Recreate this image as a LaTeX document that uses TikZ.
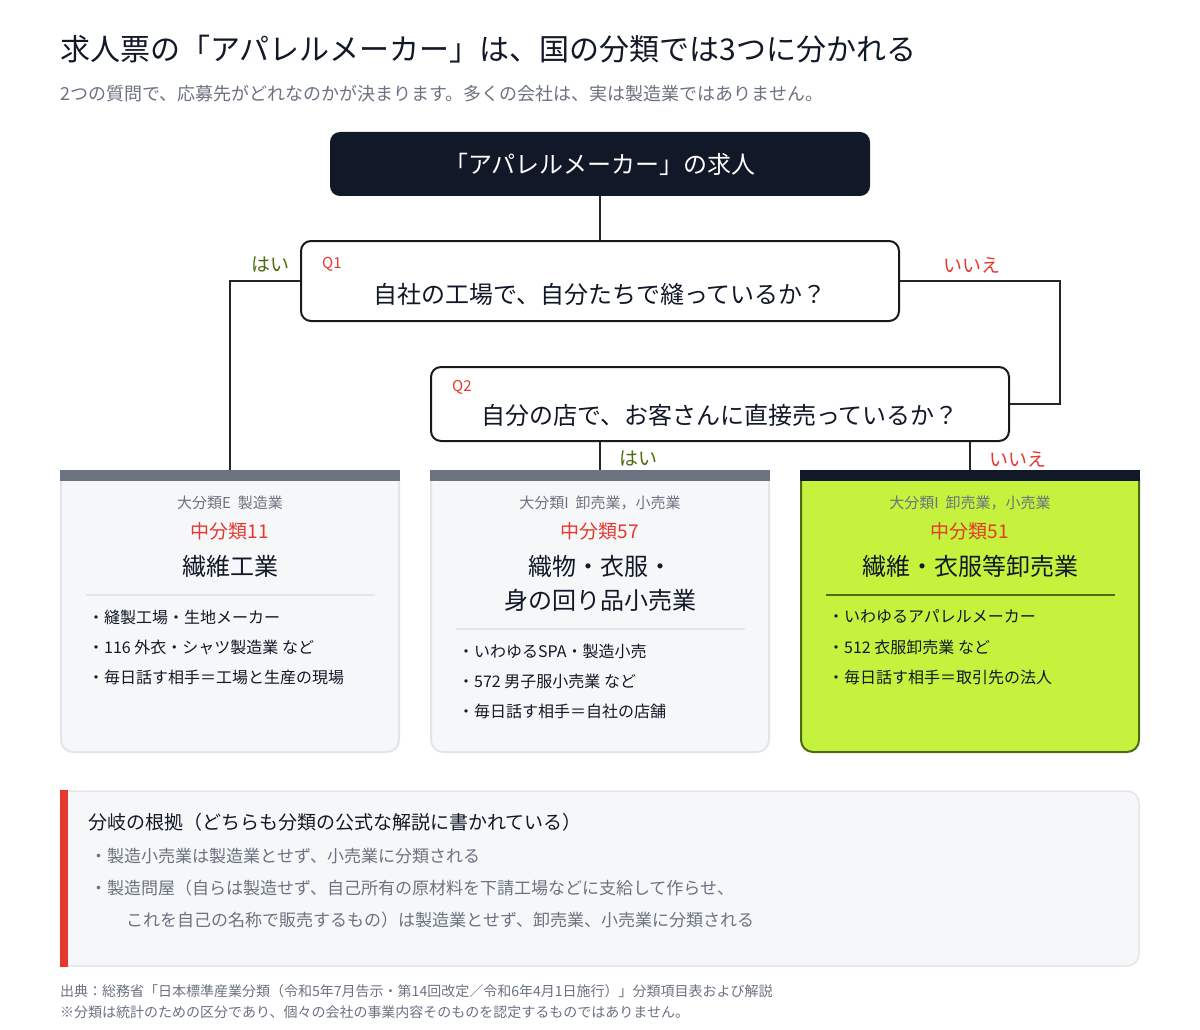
\documentclass[tikz,border=0pt]{standalone}
\usepackage{fontspec}
\setmainfont{Noto Sans CJK JP}
\begin{document}
\begin{tikzpicture}[x=1pt,y=-1pt,
  txt/.style={inner sep=0pt,anchor=center},
  lbl/.style={inner sep=0pt,anchor=west},
  conn/.style={draw=black!85,line width=2.4pt},
  qbox/.style={draw=black!90,line width=2pt,fill=white,rounded corners=10pt}]
\definecolor{ink}{HTML}{111827}
\definecolor{grayt}{HTML}{6B7280}
\definecolor{cardf}{HTML}{F6F7F9}
\definecolor{cardb}{HTML}{E2E5EB}
\definecolor{redc}{HTML}{E5392E}
\definecolor{olive}{HTML}{4D6B10}
\definecolor{lime}{HTML}{C5F23C}
\useasboundingbox (0,0) rectangle (1200,1030);
\fill[white] (0,0) rectangle (1200,1030);
% title
\node[lbl,font=\fontsize{30}{34}\selectfont,text=ink] (title) at (60,49) {求人票の「アパレルメーカー」は、国の分類では3つに分かれる};
\node[lbl,font=\fontsize{18}{22}\selectfont,text=grayt] (sub) at (60,94) {2つの質問で、応募先がどれなのかが決まります。多くの会社は、実は製造業ではありません。};
% head
\node[fill=ink,rounded corners=10pt,minimum width=540pt,minimum height=64pt,inner sep=0pt,text=white,font=\fontsize{24}{28}\selectfont] (head) at (600,164) {「アパレルメーカー」の求人};
% Q1
\node[qbox,minimum width=598pt,minimum height=80pt] (q1) at (600,281) {};
\node[lbl,font=\fontsize{15}{18}\selectfont,text=redc] (q1l) at (322,264) {Q1};
\node[txt,font=\fontsize{24}{28}\selectfont,text=ink] (q1t) at (600,294) {自社の工場で、自分たちで縫っているか？};
% Q2
\node[qbox,minimum width=578pt,minimum height=74pt] (q2) at (720,404) {};
\node[lbl,font=\fontsize{15}{18}\selectfont,text=redc] (q2l) at (452,387) {Q2};
\node[txt,font=\fontsize{24}{28}\selectfont,text=ink] (q2t) at (720,415) {自分の店で、お客さんに直接売っているか？};
% coordinates
\coordinate (c1) at (230,470);
\coordinate (c2) at (600,470);
\coordinate (c3) at (970,470);
\draw[conn] (head.south) -- (q1.north);
\draw[conn] (q1.west) -| (c1);
\draw[conn] (q1.east) -- (1060,281) |- (q2.east);
\draw[conn] (q2.south -| c2) -- (c2);
\draw[conn] (q2.south -| c3) -- (c3);
\node[txt,font=\fontsize{19}{22}\selectfont,text=olive] (y1) at (270,265) {はい};
\node[txt,font=\fontsize{19}{22}\selectfont,text=redc] (n1) at (972,265) {いいえ};
\node[txt,font=\fontsize{19}{22}\selectfont,text=olive] (y2) at (638,459) {はい};
\node[txt,font=\fontsize{19}{22}\selectfont,text=redc] (n2) at (1018,459) {いいえ};
% cards
\foreach \x/\f/\b/\bar in {60/cardf/cardb/grayt,430/cardf/cardb/grayt,800/lime/olive/ink}{
  \filldraw[fill=\f,draw=\b,line width=2pt,rounded corners=12pt] (\x+1,478) -- (\x+1,752) -- (\x+339,752) -- (\x+339,478);
  \fill[\bar] (\x,470) rectangle (\x+340,481);
}
% card 1
\node[txt,font=\fontsize{15}{18}\selectfont,text=grayt] (a1) at (230,503) {大分類E\ \ 製造業};
\node[txt,font=\fontsize{19}{22}\selectfont,text=redc] (a2) at (230,531) {中分類11};
\node[txt,font=\fontsize{24}{28}\selectfont,text=ink] (a3) at (230,566) {繊維工業};
\draw[cardb,line width=1.5pt] (86,595) -- (375,595);
\node[lbl,font=\fontsize{16}{19}\selectfont,text=ink] (a4) at (88,617) {・縫製工場・生地メーカー};
\node[lbl,font=\fontsize{16}{19}\selectfont,text=ink] (a5) at (88,647) {・116\ 外衣・シャツ製造業\ など};
\node[lbl,font=\fontsize{16}{19}\selectfont,text=ink] (a6) at (88,677) {・毎日話す相手＝工場と生産の現場};
% card 2
\node[txt,font=\fontsize{15}{18}\selectfont,text=grayt] (b1) at (600,503) {大分類I\ \ 卸売業，小売業};
\node[txt,font=\fontsize{19}{22}\selectfont,text=redc] (b2) at (600,531) {中分類57};
\node[txt,font=\fontsize{24}{28}\selectfont,text=ink] (b3) at (600,566) {織物・衣服・};
\node[txt,font=\fontsize{24}{28}\selectfont,text=ink] (b3b) at (600,600) {身の回り品小売業};
\draw[cardb,line width=1.5pt] (456,629) -- (745,629);
\node[lbl,font=\fontsize{16}{19}\selectfont,text=ink] (b4) at (458,651) {・いわゆるSPA・製造小売};
\node[lbl,font=\fontsize{16}{19}\selectfont,text=ink] (b5) at (458,681) {・572\ 男子服小売業\ など};
\node[lbl,font=\fontsize{16}{19}\selectfont,text=ink] (b6) at (458,711) {・毎日話す相手＝自社の店舗};
% card 3
\node[txt,font=\fontsize{15}{18}\selectfont,text=grayt] (d1) at (970,503) {大分類I\ \ 卸売業，小売業};
\node[txt,font=\fontsize{19}{22}\selectfont,text=redc] (d2) at (970,531) {中分類51};
\node[txt,font=\fontsize{24}{28}\selectfont,text=ink] (d3) at (970,566) {繊維・衣服等卸売業};
\draw[olive,line width=1.5pt] (826,595) -- (1115,595);
\node[lbl,font=\fontsize{16}{19}\selectfont,text=ink] (d4) at (828,617) {・いわゆるアパレルメーカー};
\node[lbl,font=\fontsize{16}{19}\selectfont,text=ink] (d5) at (828,647) {・512\ 衣服卸売業\ など};
\node[lbl,font=\fontsize{16}{19}\selectfont,text=ink] (d6) at (828,677) {・毎日話す相手＝取引先の法人};
% bottom box
\filldraw[fill=cardf,draw=cardb,line width=1.5pt,rounded corners=12pt] (64,791) -- (1139,791) -- (1139,966) -- (64,966);
\fill[redc] (60,790) rectangle (68,967);
\node[lbl,font=\fontsize{19}{22}\selectfont,text=ink] (e1) at (88,822) {分岐の根拠（どちらも分類の公式な解説に書かれている）};
\node[lbl,font=\fontsize{17}{20}\selectfont,text=grayt] (e2) at (90,856) {・製造小売業は製造業とせず、小売業に分類される};
\node[lbl,font=\fontsize{17}{20}\selectfont,text=grayt] (e3) at (90,888) {・製造問屋（自らは製造せず、自己所有の原材料を下請工場などに支給して作らせ、};
\node[lbl,font=\fontsize{17}{20}\selectfont,text=grayt] (e4) at (126,920) {これを自己の名称で販売するもの）は製造業とせず、卸売業、小売業に分類される};
% footer
\node[lbl,font=\fontsize{14}{17}\selectfont,text=grayt] (f1) at (60,991) {出典：総務省「日本標準産業分類（令和5年7月告示・第14回改定／令和6年4月1日施行）」分類項目表および解説};
\node[lbl,font=\fontsize{14}{17}\selectfont,text=grayt] (f2) at (60,1012) {※分類は統計のための区分であり、個々の会社の事業内容そのものを認定するものではありません。};
\end{tikzpicture}
\end{document}
